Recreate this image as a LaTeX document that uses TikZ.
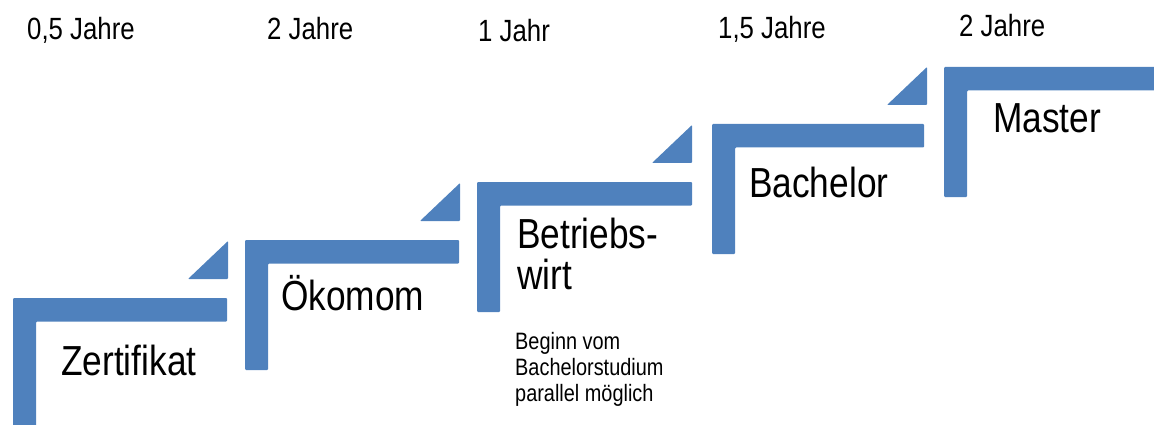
\documentclass[tikz,border=0pt]{standalone}
\usepackage{fontspec}
\setmainfont{Liberation Sans}[FakeStretch=0.84]
\usepackage{xcolor}
\usepackage{tikz}
\definecolor{stepblue}{RGB}{79,129,189}

\begin{document}
\begin{tikzpicture}[x=1pt, y=-1pt,
    stair/.style={fill=stepblue, rounded corners=1pt},
    wedge/.style={fill=stepblue, rounded corners=0.8pt},
    degree/.style={anchor=base west, inner sep=0pt, align=left,
                font=\fontsize{42}{41}\selectfont},
    dur/.style={anchor=base west, inner sep=0pt, font=\fontsize{30.7}{36}\selectfont},
    note/.style={anchor=base west, inner sep=0pt, align=left,
                font=\fontsize{23.7}{26}\selectfont}
]
\useasboundingbox (0,0) rectangle (1154,425);
\clip (0,0) rectangle (1154,425);

% stairs
\foreach \sx/\sy/\sw in {13/298/214, 245/240/214, 477/182/215, 712/124/212, 944/67/230}
  \fill[stair] (\sx,\sy) -- ++(\sw,0) -- ++(0,23.5) -- ++(23-\sw,0) -- ++(0,106.5) -- ++(-23,0) -- cycle;
\foreach \sx/\sy in {13/298, 245/240, 477/182, 712/124}
  \fill[wedge] (\sx+215,\sy-19) -- ++(-40,0) -- ++(40,-38) -- cycle;

% durations
\node[dur] (d1) at (27,40) {0,5 Jahre};
\node[dur] (d2) at (267,40) {2 Jahre};
\node[dur] (d3) at (478,42) {1 Jahr};
\node[dur] (d4) at (718,39) {1,5 Jahre};
\node[dur] (d5) at (959,37) {2 Jahre};

% degrees (base = last line)
\node[degree] (zert) at (61,375) {Zertifikat};
\node[degree] (oeko) at (281,310) {Ökomom};
\node[degree] (bw) at (517,289) {Betriebs-\\wirt};
\node[degree] (bach) at (749,197) {Bachelor};
\node[degree] (mast) at (993,133) {Master};

\node[note] (hint) at (515,401) {Beginn vom\\Bachelorstudium\\parallel möglich};
\end{tikzpicture}
\end{document}
